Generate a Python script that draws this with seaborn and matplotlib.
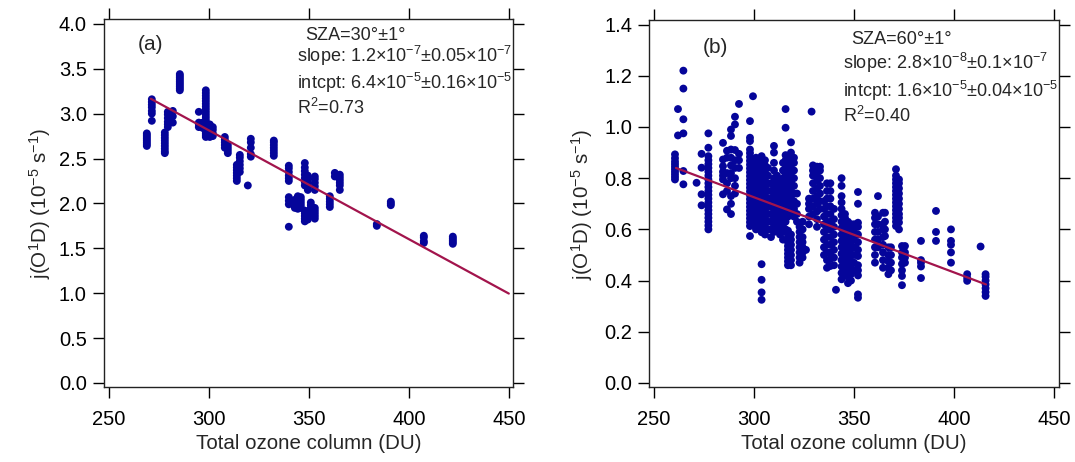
import numpy as np
import pandas as pd
import matplotlib
matplotlib.use("Agg")
import matplotlib.pyplot as plt
import seaborn as sns

# ---------------- data ----------------
# panel (a): SZA = 30 deg; columns of points at given ozone values
a_ozone = [269, 271.5, 278, 279.5, 282, 285.5, 295, 297, 298.5, 300.5, 302,
           308, 309.5, 314, 315.5, 319.5, 321, 332.5, 340, 343, 344.5, 346,
           348, 349.5, 351, 353, 360.5, 363, 365.5, 384, 391, 407.5, 422]
a_j = [
    [2.64, 2.66, 2.68, 2.70, 2.72, 2.74, 2.76, 2.78],
    [2.92, 3.00, 3.03, 3.07, 3.10, 3.13, 3.16],
    [2.56, 2.58, 2.61, 2.64, 2.67, 2.70, 2.73, 2.76, 2.79],
    [2.85, 2.88, 2.91, 2.95, 2.99, 3.02],
    [2.90, 2.97, 3.03],
    [3.26, 3.28, 3.30, 3.32, 3.34, 3.36, 3.38, 3.40, 3.42, 3.44],
    [2.85, 2.88, 2.90, 3.02],
    [2.84, 2.87, 2.90],
    [2.74, 2.76, 2.78, 2.80, 2.82, 2.84, 2.86, 2.88, 2.90, 2.93, 2.96, 2.99,
     3.02, 3.05, 3.08, 3.11, 3.14, 3.17, 3.20, 3.23, 3.26],
    [2.74, 2.77, 2.80, 2.83, 2.86, 2.88],
    [2.75, 2.78, 2.82, 2.85],
    [2.62, 2.65, 2.68, 2.71, 2.74],
    [2.56, 2.59, 2.62, 2.65],
    [2.25, 2.28, 2.31, 2.34, 2.37, 2.40, 2.43],
    [2.35, 2.39, 2.43, 2.47, 2.51, 2.54],
    [2.20],
    [2.52, 2.55, 2.62, 2.68, 2.72],
    [2.53, 2.56, 2.59, 2.62, 2.65, 2.68, 2.70],
    [1.74, 1.99, 2.03, 2.07, 2.25, 2.28, 2.31, 2.35, 2.39, 2.42],
    [1.95, 1.98, 2.01, 2.04],
    [1.94, 1.97, 2.00, 2.03, 2.06, 2.08],
    [1.95, 1.98, 2.01, 2.04, 2.07],
    [1.80, 1.83, 1.86, 1.89, 1.92, 2.20, 2.24, 2.28, 2.32, 2.36, 2.40, 2.45],
    [1.82, 1.85, 1.88, 2.15, 2.19, 2.23, 2.27, 2.31],
    [1.92, 1.95, 1.98, 2.01],
    [1.83, 1.86, 1.89, 1.92, 1.95, 2.15, 2.19, 2.23, 2.27, 2.30],
    [1.96, 1.99, 2.02, 2.05, 2.08],
    [2.30, 2.34],
    [2.15, 2.20, 2.23, 2.26, 2.29, 2.32],
    [1.75, 1.77],
    [1.98, 2.00, 2.02],
    [1.56, 1.58, 1.62, 1.64],
    [1.55, 1.57, 1.59, 1.61, 1.63],
]

# panel (b): SZA = 60 deg
b_ozone = [260.5, 262, 264.7, 271.3, 273.8, 277.2, 284.5, 286.5, 288.5, 290.5,
           292.5, 298, 299.5, 301, 302.5, 303.8, 305.5, 307, 308.5, 310,
           311.5, 313, 314.5, 315.8, 317, 318.5, 320, 321.5, 322.8, 324.3,
           326, 327.5, 328.8, 329.5, 331.5, 333, 335, 336.5, 338.2, 340,
           341, 343.8, 345.5, 347, 348.5, 350, 352, 360.5, 362, 364.5,
           365.5, 367.2, 368.5, 371, 372.5, 374, 375.5, 383.5, 391, 398.5,
           406.6, 413.3, 415.8]
b_j = [
    [0.795, 0.805, 0.815, 0.825, 0.835, 0.845, 0.855, 0.865, 0.878, 0.893],
    [0.967, 1.07],
    [0.776, 0.828, 0.975, 1.03, 1.15, 1.22],
    [0.782],
    [0.694, 0.737, 0.841, 0.895],
    [0.60, 0.615, 0.63, 0.645, 0.66, 0.675, 0.69, 0.705, 0.72, 0.735, 0.75,
     0.765, 0.78, 0.795, 0.81, 0.825, 0.84, 0.855, 0.87, 0.886, 0.919, 0.975],
    [0.737, 0.795, 0.81, 0.825, 0.847, 0.873, 0.938],
    [0.678, 0.75, 0.78, 0.82, 0.88, 0.907],
    [0.66, 0.70, 0.73, 0.80, 0.82, 0.85, 0.88, 0.912, 0.965, 0.99],
    [0.74, 0.77, 0.80, 0.84, 0.87, 0.91, 1.01, 1.04],
    [0.84, 0.87, 0.895, 1.09],
    [0.574, 0.613, 0.628, 0.643, 0.658, 0.673, 0.688, 0.703, 0.718, 0.733,
     0.748, 0.763, 0.778, 0.793, 0.808, 0.823, 0.838, 0.853, 0.868, 0.883,
     0.898, 0.912, 0.945, 0.958, 1.023],
    [0.62, 0.65, 0.68, 0.71, 0.74, 0.77, 0.80, 0.83, 0.86, 1.12],
    [0.60, 0.63, 0.66, 0.69, 0.72, 0.75, 0.78, 0.81, 0.84, 0.87, 0.88],
    [0.61, 0.64, 0.67, 0.70, 0.73, 0.76, 0.79, 0.82, 0.85],
    [0.325, 0.354, 0.403, 0.464, 0.589, 0.604, 0.619, 0.634, 0.649, 0.664,
     0.679, 0.694, 0.709, 0.724, 0.739, 0.754, 0.769, 0.784, 0.799, 0.814,
     0.829, 0.844, 0.859, 0.874, 0.886],
    [0.58, 0.61, 0.64, 0.67, 0.70, 0.73, 0.76, 0.79, 0.82, 0.85, 0.87],
    [0.60, 0.63, 0.66, 0.69, 0.72, 0.75, 0.78, 0.81, 0.84],
    [0.57, 0.60, 0.63, 0.66, 0.69, 0.72, 0.75, 0.78],
    [0.59, 0.62, 0.65, 0.68, 0.71, 0.74, 0.77, 0.80, 0.83, 0.86, 0.90, 0.926],
    [0.60, 0.63, 0.66, 0.69, 0.72, 0.75, 0.78, 0.81],
    [0.58, 0.61, 0.64, 0.67, 0.70, 0.73, 0.76, 0.79],
    [0.56, 0.59, 0.62, 0.65, 0.68, 0.71, 0.74, 0.77, 0.80, 0.83, 0.86],
    [0.60, 0.63, 0.66, 0.69, 0.72, 0.75, 0.78, 0.81, 0.84, 0.87, 0.89,
     0.997, 1.07],
    [0.46, 0.475, 0.49, 0.505, 0.52, 0.535, 0.55, 0.565, 0.58, 0.595, 0.65,
     0.68, 0.71, 0.74, 0.77, 0.80, 0.83, 0.86, 0.88],
    [0.46, 0.48, 0.50, 0.52, 0.54, 0.56, 0.58, 0.66, 0.69, 0.72, 0.75, 0.78,
     0.81, 0.84, 0.87, 0.90, 0.94],
    [0.65, 0.68, 0.71, 0.74, 0.77, 0.80, 0.83, 0.86, 0.88],
    [0.63, 0.66, 0.70, 0.74],
    [0.47, 0.49, 0.51, 0.53, 0.55, 0.57, 0.59, 0.61],
    [0.49, 0.51, 0.53, 0.55, 0.57, 0.60, 0.63],
    [0.52],
    [0.62, 0.65, 0.68, 0.70, 0.72],
    [1.06],
    [0.66, 0.69, 0.72, 0.75, 0.78, 0.81, 0.83, 0.85],
    [0.61, 0.64, 0.67, 0.70, 0.73, 0.76, 0.79, 0.82, 0.845],
    [0.68, 0.71, 0.74, 0.77, 0.80, 0.83, 0.845],
    [0.50, 0.53, 0.56, 0.59, 0.62, 0.65, 0.68, 0.71],
    [0.45, 0.48, 0.51, 0.54, 0.57, 0.60, 0.63, 0.66, 0.69, 0.72, 0.75, 0.78],
    [0.457, 0.485, 0.51, 0.54, 0.57, 0.60, 0.63, 0.66, 0.69, 0.72, 0.75, 0.78],
    [0.46, 0.49, 0.52, 0.55, 0.58, 0.61, 0.64, 0.68],
    [0.364],
    [0.405, 0.43, 0.455, 0.48, 0.505, 0.53, 0.555, 0.58, 0.605, 0.63, 0.655,
     0.68, 0.705, 0.73, 0.77, 0.80],
    [0.42, 0.445, 0.47, 0.495, 0.52, 0.545, 0.57, 0.595, 0.62, 0.645, 0.66],
    [0.39, 0.415, 0.44, 0.465, 0.49, 0.515, 0.54, 0.565, 0.59, 0.615, 0.63],
    [0.40, 0.425, 0.45, 0.475, 0.50, 0.525, 0.55, 0.575, 0.60, 0.62],
    [0.44, 0.47, 0.50, 0.53, 0.56, 0.59, 0.62],
    [0.333, 0.346, 0.42, 0.44, 0.46, 0.496, 0.52, 0.55, 0.58, 0.61, 0.626,
     0.70, 0.746],
    [0.47, 0.50, 0.53, 0.56, 0.59, 0.62, 0.645, 0.665],
    [0.53, 0.56, 0.59, 0.62, 0.65, 0.73],
    [0.45, 0.48, 0.51, 0.54, 0.57, 0.60, 0.62, 0.665],
    [0.574, 0.60, 0.63, 0.665],
    [0.425, 0.45, 0.475, 0.50, 0.53],
    [0.44, 0.47, 0.50, 0.53],
    [0.613, 0.63, 0.645, 0.66, 0.675, 0.69, 0.705, 0.72, 0.735, 0.75, 0.765,
     0.78, 0.795, 0.81, 0.835],
    [0.60, 0.627, 0.645, 0.66, 0.68, 0.70, 0.72, 0.74, 0.76, 0.78, 0.795],
    [0.382, 0.418, 0.44, 0.465, 0.49, 0.51, 0.535],
    [0.47, 0.49, 0.51, 0.535],
    [0.41, 0.455, 0.47, 0.48, 0.555],
    [0.555, 0.59, 0.672],
    [0.47, 0.51, 0.54, 0.555, 0.60],
    [0.399, 0.41, 0.425],
    [0.533],
    [0.34, 0.355, 0.37, 0.385, 0.40, 0.415, 0.425],
]

# linear fits (units of 1e-5 s-1 and DU)
a_fit_slope, a_fit_intercept, a_fit_range = -0.01212, 6.45, [271, 450]
b_fit_slope, b_fit_intercept, b_fit_range = -0.002935, 1.606, [261, 416]

a_texts = ["SZA=30°±1°",
           r"slope: 1.2×10$\mathregular{^{-7}}$±0.05×10$\mathregular{^{-7}}$",
           r"intcpt: 6.4×10$\mathregular{^{-5}}$±0.16×10$\mathregular{^{-5}}$",
           r"R$\mathregular{^{2}}$=0.73"]
b_texts = ["SZA=60°±1°",
           r"slope: 2.8×10$\mathregular{^{-8}}$±0.1×10$\mathregular{^{-7}}$",
           r"intcpt: 1.6×10$\mathregular{^{-5}}$±0.04×10$\mathregular{^{-5}}$",
           r"R$\mathregular{^{2}}$=0.40"]

x_ticks = [250, 300, 350, 400, 450]
a_yticks = [0.0, 0.5, 1.0, 1.5, 2.0, 2.5, 3.0, 3.5, 4.0]
b_yticks = [0.0, 0.2, 0.4, 0.6, 0.8, 1.0, 1.2, 1.4]


def expand(cols_x, cols_y):
    xs, ys = [], []
    for x, yl in zip(cols_x, cols_y):
        for y in yl:
            xs.append(x)
            ys.append(y)
    return pd.DataFrame({"ozone": xs, "j": ys})


df_a = expand(a_ozone, a_j)
df_b = expand(b_ozone, b_j)

# ---------------- style ----------------
sns.set_style("ticks")
plt.rcParams["font.family"] = ["Liberation Sans", "DejaVu Sans"]
plt.rcParams["mathtext.fontset"] = "custom"
plt.rcParams["mathtext.rm"] = "Liberation Sans"
plt.rcParams["mathtext.it"] = "Liberation Sans:italic"
plt.rcParams["mathtext.bf"] = "Liberation Sans:bold"

PT_COLOR = "#05059A"
LINE_COLOR = "#A2144C"

fig = plt.figure(figsize=(10.75, 4.62), dpi=100)
ax_a = fig.add_axes([0.0963, 0.1613, 0.3812, 0.7976])
ax_b = fig.add_axes([0.6037, 0.1613, 0.3814, 0.7944])

panels = [
    (ax_a, df_a, a_fit_slope, a_fit_intercept, a_fit_range, a_texts, "(a)",
     a_yticks, (247.35, 452.25), (-0.05, 4.054), "%.1f",
     (0.472, 0.492), [0.942, 0.882, 0.810, 0.742], (0.084, 0.93), 4),
    (ax_b, df_b, b_fit_slope, b_fit_intercept, b_fit_range, b_texts, "(b)",
     b_yticks, (247.5, 452.5), (-0.0175, 1.416), "%.1f",
     (0.474, 0.494), [0.936, 0.868, 0.792, 0.722], (0.132, 0.925), 7),
]

for (ax, df, slope, icpt, frange, texts, lab, yticks, xlim, ylim, fmt,
     tx, ty, labpos, ylpad) in panels:
    sns.scatterplot(data=df, x="ozone", y="j", ax=ax, color=PT_COLOR,
                    s=32, linewidth=0, edgecolor="none", zorder=2)
    fx = np.array(frange, dtype=float)
    fy = icpt + slope * fx
    sns.lineplot(x=fx, y=fy, ax=ax, color=LINE_COLOR, linewidth=1.6,
                 zorder=3)
    ax.set_xlim(*xlim)
    ax.set_ylim(*ylim)
    ax.set_xticks(x_ticks)
    ax.set_yticks(yticks)
    ax.set_yticklabels([fmt % v for v in yticks])
    ax.tick_params(direction="out", length=8, width=1.0, top=True,
                   right=True, labelsize=14.5, colors="black")
    ax.tick_params(axis="x", pad=8)
    ax.tick_params(axis="y", pad=4)
    for sp in ax.spines.values():
        sp.set_visible(True)
        sp.set_linewidth(1.0)
        sp.set_color("#222222")
    ax.set_xlabel("Total ozone column (DU)", fontsize=14.8, labelpad=4)
    ax.set_ylabel(r"j(O$\mathregular{^{1}}$D) (10$\mathregular{^{-5}}$ s$\mathregular{^{-1}}$)",
                  fontsize=14.8, labelpad=ylpad)
    ax.text(labpos[0], labpos[1], lab, transform=ax.transAxes, fontsize=15,
            ha="left", va="center")
    ax.text(tx[1], ty[0], texts[0], transform=ax.transAxes, fontsize=13,
            ha="left", va="baseline")
    for t, yy in zip(texts[1:], ty[1:]):
        ax.text(tx[0], yy, t, transform=ax.transAxes, fontsize=13,
                ha="left", va="baseline")
    ax.set_facecolor("white")

fig.savefig("out.png", dpi=100, facecolor="white")
